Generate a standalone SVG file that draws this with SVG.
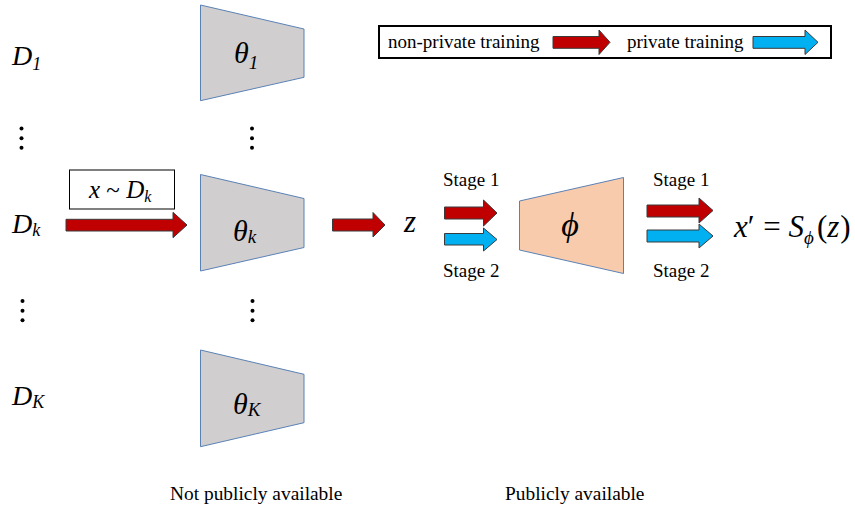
<svg xmlns="http://www.w3.org/2000/svg" width="855" height="511" viewBox="0 0 855 511">
<style>
text{font-family:"Liberation Serif","Times New Roman",serif;fill:#000}
.it{font-style:italic}
.enc{fill:#D0CECE;stroke:#5B82B5;stroke-width:1}
.dec{fill:#F8CBAD;stroke:#5B82B5;stroke-width:1}
.red{fill:#C00000;stroke:#3A3A3A;stroke-width:1}
.blue{fill:#00B0F0;stroke:#3A3A3A;stroke-width:1}
.dot{fill:#000}
</style>
<rect width="855" height="511" fill="#fff"/>
<g id="legend">
<rect x="379" y="26" width="452" height="32" fill="#fff" stroke="#000" stroke-width="2"/>
<text x="388" y="48" font-size="19">non-private training</text>
<polygon class="red" points="553,36.5 599,36.5 599,30 610,42.3 599,54.5 599,48.3 553,48.3"/>
<text x="627" y="48" font-size="19">private training</text>
<polygon class="blue" points="753,36.5 805,36.5 805,30 818,42.3 805,54.5 805,48.3 753,48.3"/>
</g>
<g id="labels-D">
<text class="it" x="12" y="65" font-size="28">D<tspan font-size="18" dy="5">1</tspan></text>
<text class="it" x="12" y="233" font-size="28">D<tspan font-size="18" dy="3">k</tspan></text>
<text class="it" x="12" y="405" font-size="28">D<tspan font-size="18" dy="3">K</tspan></text>
</g>
<g id="dots">
<circle class="dot" cx="21.5" cy="128.5" r="2"/><circle class="dot" cx="21.5" cy="138.3" r="2"/><circle class="dot" cx="21.5" cy="147.8" r="2"/>
<circle class="dot" cx="252" cy="128.5" r="2"/><circle class="dot" cx="252" cy="138.3" r="2"/><circle class="dot" cx="252" cy="147.8" r="2"/>
<circle class="dot" cx="22.5" cy="301" r="2"/><circle class="dot" cx="22.5" cy="310.7" r="2"/><circle class="dot" cx="22.5" cy="320.3" r="2"/>
<circle class="dot" cx="252.5" cy="301" r="2"/><circle class="dot" cx="252.5" cy="310.7" r="2"/><circle class="dot" cx="252.5" cy="320.3" r="2"/>
</g>
<g id="enc-1">
<polygon class="enc" points="200.5,5 304,29 304,77.3 200.5,100.7"/>
<text class="it" x="234" y="63" font-size="30">θ<tspan font-size="19" dy="6">1</tspan></text>
</g>
<g id="enc-k">
<polygon class="enc" points="200.5,174.5 304,198.5 304,247.5 200.5,271"/>
<text class="it" x="233" y="241" font-size="30">θ<tspan font-size="19" dy="2">k</tspan></text>
</g>
<g id="enc-K">
<polygon class="enc" points="200.5,350 304,374.3 304,422.7 200.5,446.7"/>
<text class="it" x="233" y="414" font-size="30">θ<tspan font-size="19" dy="2">K</tspan></text>
</g>
<g id="sample">
<rect x="69.5" y="170" width="105" height="39" fill="#fff" stroke="#000" stroke-width="1"/>
<text x="89" y="198" font-size="25"><tspan class="it">x</tspan> ~ <tspan class="it">D</tspan><tspan class="it" font-size="16" dy="4">k</tspan></text>
</g>
<g id="z">
<text class="it" x="404" y="232" font-size="31">z</text>
</g>
<g id="dec-phi">
<polygon class="dec" points="519.5,201 623.5,177.5 623.5,273.5 519.5,250"/>
<text class="it" x="570" y="236" font-size="34" text-anchor="middle">ϕ</text>
</g>
<g id="output">
<text x="734" y="237" font-size="31"><tspan class="it">x</tspan>′ <tspan dx="1">=</tspan> <tspan class="it">S</tspan><tspan class="it" font-size="19" dy="7">ϕ</tspan><tspan dy="-7" dx="3">(</tspan><tspan class="it">z</tspan><tspan dx="1">)</tspan></text>
</g>
<g id="stage-labels">
<text x="443" y="186" font-size="19">Stage 1</text>
<text x="443" y="277" font-size="19">Stage 2</text>
<text x="653" y="186" font-size="19">Stage 1</text>
<text x="653" y="277" font-size="19">Stage 2</text>
</g>
<g id="connectors">
<polygon class="red" points="66,219.3 173,219.3 173,212.3 187,225 173,237.7 173,231 66,231"/>
<polygon class="red" points="332.5,219 373,219 373,212.5 385,225 373,237 373,231 332.5,231"/>
<polygon class="red" points="444.5,207 483.5,207 483.5,200 497,213 483.5,226 483.5,219 444.5,219"/>
<polygon class="blue" points="444.5,233.5 483.5,233.5 483.5,228 497,239.5 483.5,251 483.5,245 444.5,245"/>
<polygon class="red" points="647,205 699,205 699,198 713,210.5 699,223 699,217 647,217"/>
<polygon class="blue" points="647,230 699,230 699,224 713,236 699,248 699,242 647,242"/>
</g>
<g id="footer">
<text x="170" y="500" font-size="19.4">Not publicly available</text>
<text x="505" y="500" font-size="19.4">Publicly available</text>
</g>
</svg>
